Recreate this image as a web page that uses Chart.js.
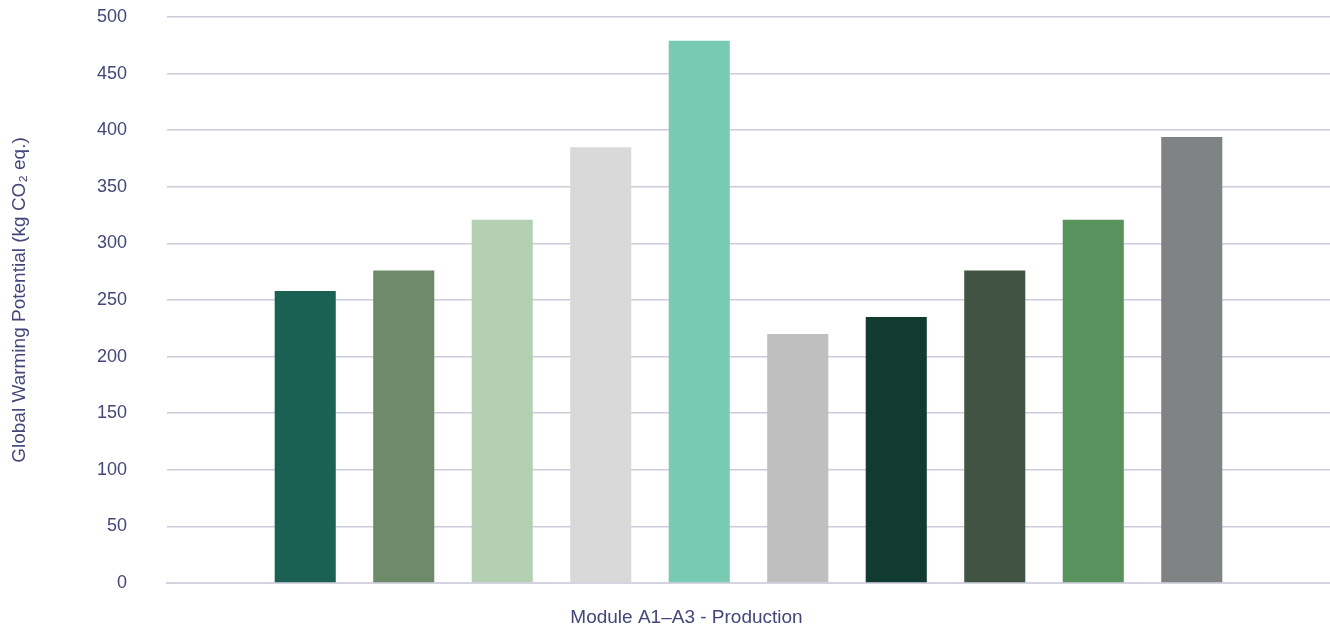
<!DOCTYPE html>
<html>
<head>
<meta charset="utf-8">
<script src="https://cdn.jsdelivr.net/npm/chart.js@4/dist/chart.umd.min.js"></script>
<style>
  html, body { margin: 0; padding: 0; background: #fff; }
  #wrap { width: 1330px; height: 628px; }
</style>
</head>
<body>
<div id="wrap"><canvas id="gwpChart"></canvas></div>
<script>
// ---- DATA ----
const categories = ["Module A1\u2013A3 - Production"];
const seriesNames = ["S1", "S2", "S3", "S4", "S5", "S6", "S7", "S8", "S9", "S10"];
const seriesValues = [258, 276, 321, 385, 479, 220, 235, 276, 321, 394];
const seriesColors = ["#1b6153", "#6e8b69", "#b3d0b3", "#d9d9d9", "#79cab2",
                      "#bfbfbf", "#113a30", "#415443", "#58925d", "#808384"];
const yMin = 0, yMax = 500, yStep = 50;

const textColor = "#444678";
const fontFamily = "'Liberation Sans', Arial, sans-serif";

// one dataset per bar so each gets its own colour inside the single group
const datasets = seriesNames.map((name, i) => ({
    label: name,
    data: [seriesValues[i]],
    backgroundColor: seriesColors[i],
    categoryPercentage: 0.847,
    barPercentage: 0.62
}));

new Chart(document.getElementById("gwpChart").getContext("2d"), {
    type: "bar",
    data: { labels: categories, datasets: datasets },
    options: {
        responsive: true,
        maintainAspectRatio: false,
        animation: false,
        layout: { padding: 0 },
        plugins: { legend: { display: false }, tooltip: { enabled: false } },
        scales: {
            x: {
                grid: { display: false, drawTicks: false },
                border: { display: true, color: "#d5d3e0", width: 2 },
                ticks: {
                    color: textColor,
                    font: { family: fontFamily, size: 19 },
                    padding: 23,
                    labelOffset: -62
                },
                afterFit: (scale) => { scale.height = 45; }
            },
            y: {
                min: yMin,
                max: yMax,
                ticks: {
                    stepSize: yStep,
                    color: textColor,
                    font: { family: fontFamily, size: 18 },
                    padding: 40
                },
                grid: { color: "#cdcbdc", lineWidth: 1.5, drawTicks: false },
                border: { display: false },
                title: {
                    display: true,
                    text: "Global Warming Potential (kg CO\u2082 eq.)",
                    color: textColor,
                    font: { family: fontFamily, size: 19 },
                    padding: { top: 8, bottom: 0 }
                },
                afterFit: (scale) => {
                    scale.width = 167;
                    scale.paddingTop = 17;
                    scale.paddingBottom = 0;
                }
            }
        }
    }
});
</script>
</body>
</html>
